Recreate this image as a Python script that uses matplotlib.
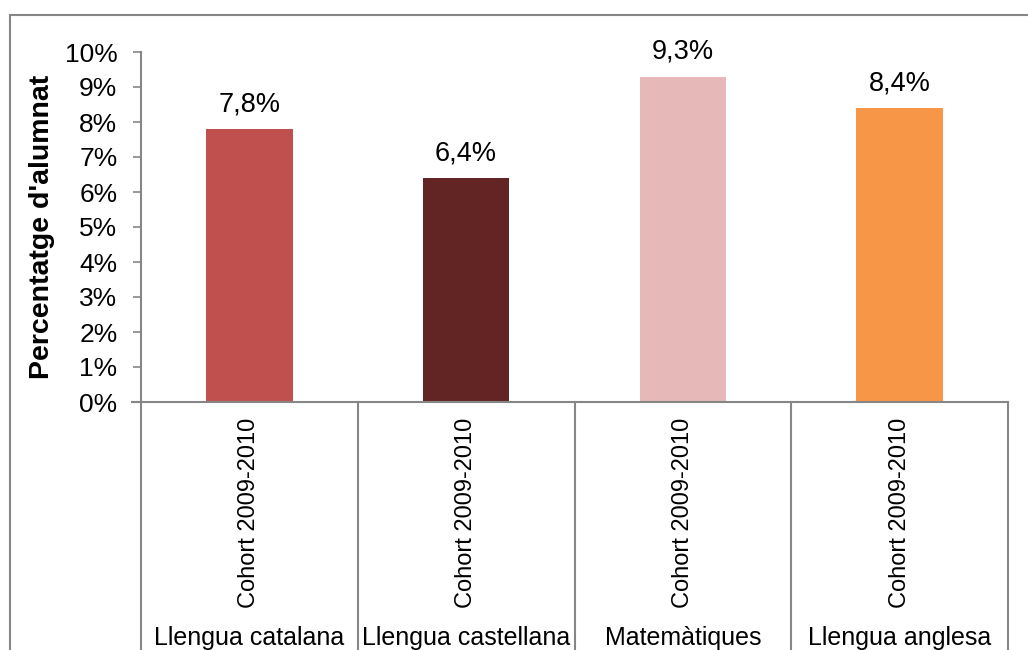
import matplotlib.pyplot as plt
from matplotlib.patches import Rectangle
from matplotlib.ticker import FuncFormatter

plt.rcParams['font.family'] = ['Liberation Sans', 'DejaVu Sans']

# dades
assignatures = ["Llengua catalana", "Llengua castellana", "Matemàtiques", "Llengua anglesa"]
cohort = ["Cohort 2009-2010"] * 4
percentatges = [0.078, 0.064, 0.093, 0.084]
colors = ["#C0504D", "#632523", "#E6B9B8", "#F79646"]

W, H = 1028, 650
fig = plt.figure(figsize=(W / 100, H / 100), dpi=100)

# marc exterior del grafic (tallat a dreta i a baix)
fig.patches.append(Rectangle((9.5 / W, -0.1), 1.2, 1 - 14.5 / H + 0.1,
                             transform=fig.transFigure, fill=False,
                             edgecolor="#868686", linewidth=1.5))

x0, x1 = 141 / W, 1008 / W
y0, y1 = 1 - 402 / H, 1 - 52 / H
ax = fig.add_axes([x0, y0, x1 - x0, y1 - y0])

posicions = [i + 0.5 for i in range(len(percentatges))]
ax.bar(posicions, percentatges, width=0.4, color=colors)

for p, v in zip(posicions, percentatges):
    ax.text(p, v + 0.0033, ("%.1f%%" % (v * 100)).replace(".", ","),
            ha="center", va="bottom", fontsize=19.5)

ax.set_xlim(0, 4)
ax.set_ylim(0, 0.10)
ax.set_yticks([i / 100 for i in range(11)])
ax.yaxis.set_major_formatter(FuncFormatter(lambda v, _: "%d%%" % round(v * 100)))
ax.tick_params(axis="y", labelsize=19, length=6, width=1.2, color="#868686", pad=11)
ax.set_xticks([])
for s in ["top", "right"]:
    ax.spines[s].set_visible(False)
for s in ["left", "bottom"]:
    ax.spines[s].set_color("#868686")
    ax.spines[s].set_linewidth(1.5)
ax.set_ylabel("Percentatge d'alumnat", fontsize=20.5, fontweight="bold", labelpad=7)

# eix de categories en dos nivells
trans = ax.get_xaxis_transform()
baix = -(650 - 402) / (402 - 52) - 0.05
for i in range(len(percentatges) + 1):
    ax.plot([i, i], [0, baix], transform=trans, color="#868686",
            linewidth=1.5, clip_on=False)
ax.plot([-0.04, 0], [0, 0], transform=trans, color="#868686", linewidth=1.5, clip_on=False)

for p, c, a in zip(posicions, cohort, assignatures):
    ax.text(p, -(513 - 402) / 350, c, transform=trans, rotation=90,
            ha="center", va="center", fontsize=17)
    ax.text(p, -(638 - 402) / 350, a, transform=trans,
            ha="center", va="center", fontsize=18)

fig.savefig("out.png", dpi=100)
